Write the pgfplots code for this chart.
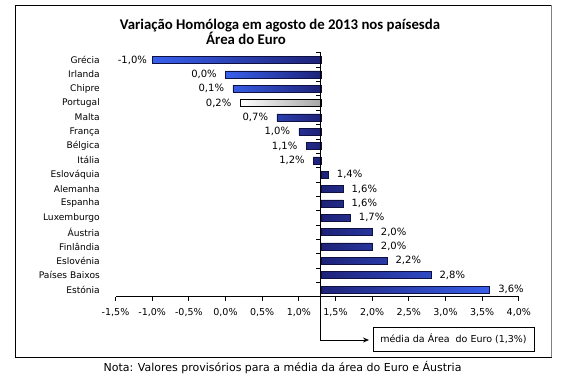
\documentclass[border=0pt]{standalone}
\usepackage{pgfplots}
\pgfplotsset{compat=1.18}
\usepackage{pgfplotstable}
\usepackage{fontspec}
\setmainfont{DejaVu Sans}
\newfontfamily\titlefont{Carlito}
\usetikzlibrary{arrows.meta}

\definecolor{barbright}{RGB}{56,96,236}
\definecolor{bardark}{RGB}{30,34,120}
\definecolor{barline}{RGB}{16,16,64}

% y = category index (0 = Grécia at top), v = variação homóloga (%)
\pgfplotstableread{
y v
0 -1.0
}\tabgrecia
\pgfplotstableread{
y v
1 0.0
2 0.1
4 0.7
5 1.0
6 1.1
7 1.2
}\tabneg
\pgfplotstableread{
y v
3 0.2
}\tabportugal
\pgfplotstableread{
y v
8 1.4
9 1.6
10 1.6
11 1.7
12 2.0
13 2.0
14 2.2
15 2.8
16 3.6
}\tabpos

\begin{document}
\begin{tikzpicture}
\useasboundingbox (0,0) rectangle (564pt,383pt);
% frame
\draw[line width=0.8pt] (15pt,26pt) rectangle (551pt,378pt);
\draw[gray, line width=1.6pt] (551.5pt,26pt) -- (551.5pt,378.4pt);
% title
\node[anchor=base, inner sep=0pt] at (280pt,353pt) {\titlefont\bfseries\fontsize{14.8}{16}\selectfont Variação Homóloga em agosto de 2013 nos paísesda};
\node[anchor=base, inner sep=0pt] at (246pt,338pt) {\titlefont\bfseries\fontsize{14.8}{16}\selectfont Área do Euro};

\begin{axis}[
  at={(115.5pt,86.3pt)}, anchor=south west,
  scale only axis, width=403.3pt, height=243.9pt,
  xmin=-2.8, xmax=2.7, ymin=-0.5, ymax=16.5, y dir=reverse,
  axis x line*=bottom, axis y line*=left,
  y axis line style={draw=none},
  x axis line style={line width=0.75pt},
  ytick={0,...,16},
  yticklabels={Grécia,Irlanda,Chipre,Portugal,Malta,França,Bélgica,Itália,Eslováquia,Alemanha,Espanha,Luxemburgo,Áustria,Finlândia,Eslovénia,Países Baixos,Estónia},
  ytick style={draw=none},
  yticklabel style={inner xsep=0pt, xshift=-11.5pt, font=\fontsize{9.1}{11}\selectfont},
  xtick={-2.8,-2.3,-1.8,-1.3,-0.8,-0.3,0.2,0.7,1.2,1.7,2.2,2.7},
  xticklabels={{-1,5\%},{-1,0\%},{-0,5\%},{0,0\%},{0,5\%},{1,0\%},{1,5\%},{2,0\%},{2,5\%},{3,0\%},{3,5\%},{4,0\%}},
  xtick align=outside, major tick length=4pt,
  xtick style={line width=0.75pt, black},
  xticklabel style={font=\fontsize{9.5}{11}\selectfont, inner sep=0pt, anchor=base, yshift=-14.5pt},
  xbar, bar width=7pt, bar shift=0pt,
  point meta=explicit,
  nodes near coords={\pgfmathprintnumber[fixed,fixed zerofill,precision=1,use comma,assume math mode=true]{\pgfplotspointmeta}\%},
  every node near coord/.append style={font=\fontsize{10}{11}\selectfont, inner xsep=8.5pt, inner ysep=0pt, text=black},
  clip=false,
]
\addplot[draw=barline, line width=0.6pt, left color=barbright, right color=bardark,
  every node near coord/.append style={anchor=east, inner xsep=5pt}]
  table[x expr=\thisrow{v}-1.3, y=y, meta=v]{\tabgrecia};
\addplot[draw=barline, line width=0.6pt, left color=barbright, right color=bardark,
  every node near coord/.append style={anchor=east}]
  table[x expr=\thisrow{v}-1.3, y=y, meta=v]{\tabneg};
\addplot[draw=black, line width=0.6pt, left color=white, right color=black!35,
  every node near coord/.append style={anchor=east}]
  table[x expr=\thisrow{v}-1.3, y=y, meta=v]{\tabportugal};
\addplot[draw=barline, line width=0.6pt, left color=bardark, right color=barbright,
  every node near coord/.append style={anchor=west}]
  table[x expr=\thisrow{v}-1.3, y=y, meta=v]{\tabpos};
% vertical axis at the euro-area mean
\draw[line width=0.75pt] (axis cs:0,-0.5) -- (axis cs:0,16.5);
\pgfplotsinvokeforeach{-0.5,0.5,1.5,2.5,3.5,4.5,5.5,6.5,7.5,8.5,9.5,10.5,11.5,12.5,13.5,14.5,15.5}{
  \draw[line width=0.75pt] (axis cs:0,#1) -- ([xshift=-4.5pt]axis cs:0,#1);
}
\coordinate (base) at (axis cs:0,16.5);
\end{axis}
% annotation
\draw[line width=0.75pt, -{Stealth[length=6pt,width=5pt]}] (base) -- (base |- 0,43pt) -- (369pt,43pt);
\draw[line width=0.75pt] (373pt,32pt) rectangle (534pt,56pt);
\node[font=\fontsize{9.5}{11}\selectfont] at (453.5pt,44pt) {média da Área\ \ do Euro (1,3\%)};
% note
\node[anchor=base, font=\fontsize{11}{13}\selectfont, inner sep=0pt] at (282.5pt,12pt) {Nota: Valores provisórios para a média da área do Euro e Áustria};
\end{tikzpicture}
\end{document}
